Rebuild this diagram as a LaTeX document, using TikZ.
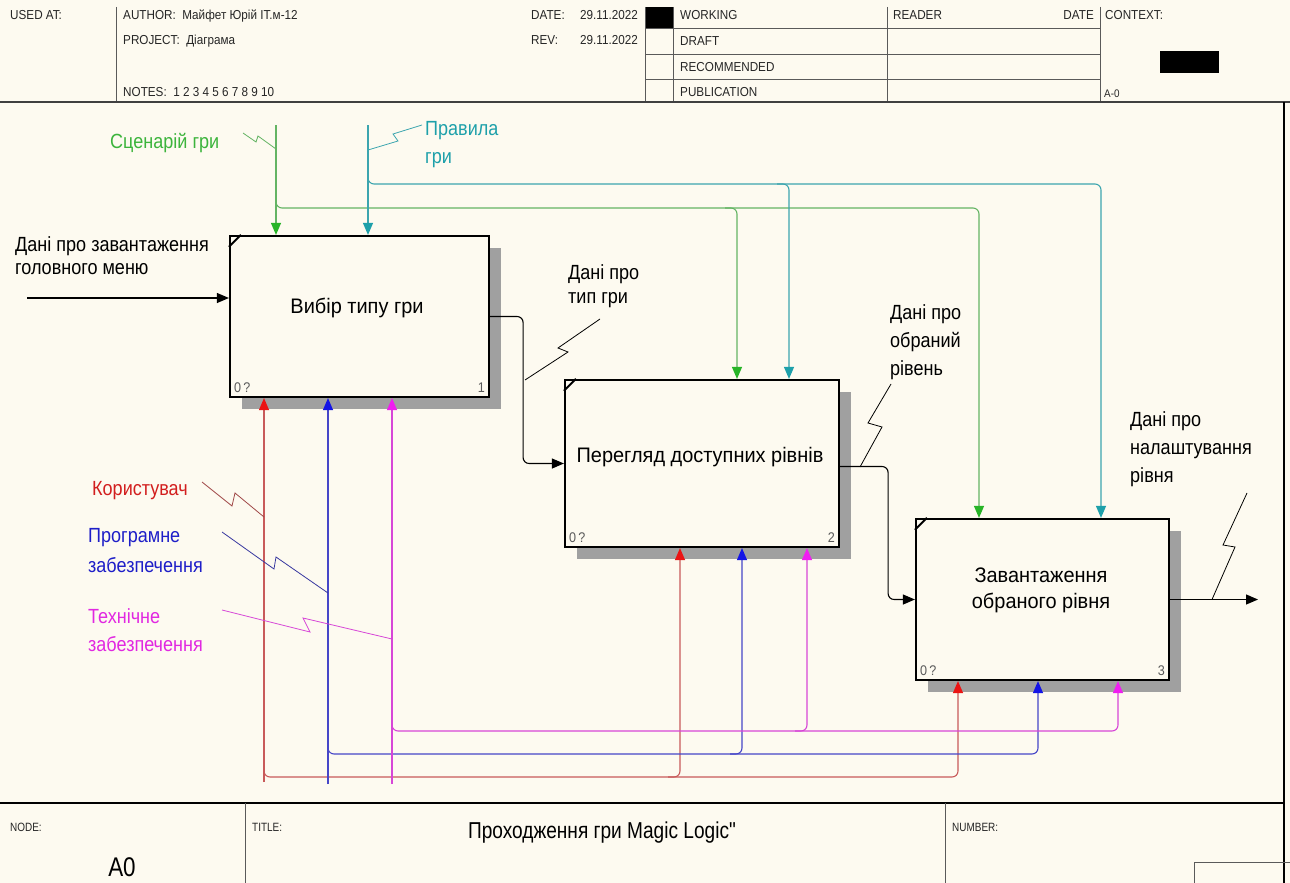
\documentclass[tikz,border=0pt]{standalone}
\usepackage{fontspec}
\setmainfont{Liberation Sans}
\newfontfamily\lblfam[FakeStretch=0.88]{Liberation Sans}
\newfontfamily\boxfam[FakeStretch=0.95]{Liberation Sans}
\newfontfamily\hdrfam[FakeStretch=0.9]{Liberation Sans}
\newfontfamily\ttlfam[FakeStretch=0.83]{Liberation Sans}
\usetikzlibrary{arrows.meta,calc}
\definecolor{bg}{RGB}{253,250,240}
\definecolor{gline}{RGB}{100,180,100}
\definecolor{garrow}{RGB}{40,180,40}
\definecolor{gtext}{RGB}{60,180,60}
\definecolor{cline}{RGB}{60,165,175}
\definecolor{carrow}{RGB}{30,160,170}
\definecolor{rline}{RGB}{200,90,90}
\definecolor{rarrow}{RGB}{235,20,20}
\definecolor{rtext}{RGB}{210,30,30}
\definecolor{bline}{RGB}{70,70,200}
\definecolor{barrow}{RGB}{20,20,230}
\definecolor{btext}{RGB}{30,30,200}
\definecolor{mline}{RGB}{215,70,215}
\definecolor{marrow}{RGB}{240,30,240}
\definecolor{mtext}{RGB}{225,40,225}
\definecolor{shadowgray}{RGB}{160,160,160}
\definecolor{hdr}{RGB}{90,90,90}
\newcommand{\LblFont}[1]{\lblfam\fontsize{20.5}{#1}\selectfont}
\newcommand{\BoxFont}{\boxfam\fontsize{21}{26}\selectfont}
\begin{document}
\begin{tikzpicture}[x=1pt,y=-1pt,
  hdrline/.style={line width=0.9pt, draw=hdr},
  htxt/.style={inner sep=0pt, anchor=base west, font=\hdrfam\fontsize{13}{15}\selectfont, text=black!85},
  box/.style={draw, line width=2.2pt, fill=bg, inner sep=0pt},
  boxtxt/.style={inner sep=0pt, align=center, font=\BoxFont},
  corner/.style={inner sep=0pt, font=\hdrfam\fontsize{14}{16}\selectfont, text=hdr},
  lbl/.style={inner sep=0pt, anchor=north west, align=left},
  conn/.style={line width=1.1pt, rounded corners=6pt},
  sq/.style={line width=0.8pt},
  tipk/.style={-{Triangle[length=12pt,width=10pt]}},
]
\useasboundingbox (0,0) rectangle (1290,883);
\fill[bg] (0,0) rectangle (1290,883);

% ---------- header ----------
\foreach \xx in {116,645,673,887,1100} \draw[hdrline] (\xx,7) -- (\xx,102);
\foreach \yy in {28,54,79} \draw[hdrline] (645,\yy) -- (1100,\yy);
\fill[black] (646,7) rectangle (673,28);
\fill[black] (1160,51) rectangle (1219,73);
\draw[line width=1.6pt, draw=black!75] (0,102) -- (1290,102);
\node[htxt] (usedat) at (10,20) {USED AT:};
\node[htxt] (author) at (123,20) {AUTHOR:\ \ Майфет Юрій ІТ.м-12};
\node[htxt] (project) at (123,45) {PROJECT:\ \ Діаграма};
\node[htxt] (notes) at (123,96) {NOTES:\ \ 1\ 2\ 3\ 4\ 5\ 6\ 7\ 8\ 9\ 10};
\node[htxt] (datek) at (531,20) {DATE:};
\node[htxt,anchor=base east] (datev) at (638,20) {29.11.2022};
\node[htxt] (revk) at (531,45) {REV:};
\node[htxt,anchor=base east] (revv) at (638,45) {29.11.2022};
\node[htxt] (working) at (680,20) {WORKING};
\node[htxt] (draft) at (680,46) {DRAFT};
\node[htxt] (recom) at (680,71) {RECOMMENDED};
\node[htxt] (publ) at (680,96) {PUBLICATION};
\node[htxt] (reader) at (893,20) {READER};
\node[htxt,anchor=base east] (rdate) at (1094,20) {DATE};
\node[htxt] (context) at (1105,20) {CONTEXT:};
\node[htxt,font=\hdrfam\fontsize{11}{13}\selectfont] (ctxa) at (1104,97) {A-0};

% ---------- footer ----------
\draw[line width=1.5pt] (0,803) -- (1284,803);
\draw[line width=1.5pt] (1284,102) -- (1284,883);
\draw[hdrline] (245,803) -- (245,883);
\draw[hdrline] (945,803) -- (945,883);
\draw[hdrline] (1194,883) -- (1194,862) -- (1290,862);
\node[htxt,font=\ttlfam\fontsize{12}{14}\selectfont] (nodek) at (10,831) {NODE:};
\node[htxt,font=\ttlfam\fontsize{12}{14}\selectfont] (titlek) at (252,831) {TITLE:};
\node[htxt,font=\ttlfam\fontsize{12}{14}\selectfont] (numk) at (952,831) {NUMBER:};
\node[inner sep=0pt,anchor=base,font=\ttlfam\fontsize{23}{27}\selectfont] (title) at (602,838) {Проходження гри Magic Logic"};
\node[inner sep=0pt,anchor=base,font=\ttlfam\fontsize{27}{30}\selectfont] (a0) at (122,876) {A0};

% ---------- shadows ----------
\fill[shadowgray] (242,248) rectangle (501,409);
\fill[shadowgray] (577,392) rectangle (851,559);
\fill[shadowgray] (928,531) rectangle (1181,692);

% ---------- boxes ----------
\node[box, minimum width=259pt, minimum height=161pt] (b1) at (359.5,316.5) {};
\node[box, minimum width=274pt, minimum height=167pt] (b2) at (702,463.5) {};
\node[box, minimum width=253pt, minimum height=161pt] (b3) at (1042.5,599.5) {};
\foreach \b in {b1,b2,b3}
  \draw[line width=2pt] ([yshift=-12pt]\b.north west) -- ([xshift=12pt]\b.north west);
\node[boxtxt] (t1) at (357,308) {Вибір типу гри};
\node[boxtxt] (t2) at (700,457) {Перегляд доступних рівнів};
\node[boxtxt] (t3) at (1041,590) {Завантаження\\обраного рівня};
\node[corner,anchor=base west] (c1a) at ([xshift=5pt,yshift=6pt]b1.south west) {0\,?};
\node[corner,anchor=base east] (c1b) at ([xshift=-5pt,yshift=6pt]b1.south east) {1};
\node[corner,anchor=base west] (c2a) at ([xshift=5pt,yshift=6pt]b2.south west) {0\,?};
\node[corner,anchor=base east] (c2b) at ([xshift=-5pt,yshift=6pt]b2.south east) {2};
\node[corner,anchor=base west] (c3a) at ([xshift=5pt,yshift=6pt]b3.south west) {0\,?};
\node[corner,anchor=base east] (c3b) at ([xshift=-5pt,yshift=6pt]b3.south east) {3};

% ---------- labels ----------
\node[lbl,font=\LblFont{23}] (lin) at (15,236) {Дані про завантаження\\головного меню};
\node[lbl,font=\LblFont{22},text=gtext] (lsc) at (110,133) {Сценарій гри};
\node[lbl,font=\LblFont{28},text=carrow] (lpr) at (425,121) {Правила\\гри};
\node[lbl,font=\LblFont{24}] (ltype) at (568,264) {Дані про\\тип гри};
\node[lbl,font=\LblFont{28}] (llev) at (890,304) {Дані про\\обраний\\рівень};
\node[lbl,font=\LblFont{28}] (lout) at (1130,411) {Дані про\\налаштування\\рівня};
\node[lbl,font=\LblFont{22},text=rtext] (luser) at (92,481) {Користувач};
\node[lbl,font=\LblFont{30},text=btext] (lsw) at (88,528) {Програмне\\забезпечення};
\node[lbl,font=\LblFont{28},text=mtext] (lhw) at (88,608) {Технічне\\забезпечення};

% ---------- coordinates ----------
\coordinate (inS) at (27,298);
\coordinate (gS) at (276,125);
\coordinate (cS) at (368,125);
\coordinate (rS) at (264,782);
\coordinate (bS) at (328,784);
\coordinate (mS) at (392,784);
\coordinate (outE) at (1258,599.5);

% ---------- input ----------
\draw[line width=1.1pt,tipk] (inS) -- (inS -| b1.west);

% ---------- controls ----------
\draw[conn,draw=gline,-{Triangle[length=12pt,width=10pt,color=garrow]}] (gS) -- (gS |- b1.north);
\draw[conn,draw=gline,-{Triangle[length=12pt,width=10pt,color=garrow]}] (276,196) -- (276,208) -- (979,208) -- (979,0 |- b3.north);
\draw[conn,draw=gline,-{Triangle[length=12pt,width=10pt,color=garrow]}] (725,208) -- (737,208) -- (737,0 |- b2.north);
\draw[conn,draw=cline,-{Triangle[length=12pt,width=10pt,color=carrow]}] (cS) -- (cS |- b1.north);
\draw[conn,draw=cline,-{Triangle[length=12pt,width=10pt,color=carrow]}] (368,172) -- (368,184) -- (1101,184) -- (1101,0 |- b3.north);
\draw[conn,draw=cline,-{Triangle[length=12pt,width=10pt,color=carrow]}] (777,184) -- (789,184) -- (789,0 |- b2.north);

% ---------- mechanisms ----------
\draw[conn,draw=rline,-{Triangle[length=12pt,width=10pt,color=rarrow]}] (rS) -- (rS |- b1.south);
\draw[conn,draw=rline,-{Triangle[length=12pt,width=10pt,color=rarrow]}] (264,765) -- (264,777) -- (958,777) -- (958,0 |- b3.south);
\draw[conn,draw=rline,-{Triangle[length=12pt,width=10pt,color=rarrow]}] (668,777) -- (680,777) -- (680,0 |- b2.south);
\draw[conn,draw=bline,-{Triangle[length=12pt,width=10pt,color=barrow]}] (bS) -- (bS |- b1.south);
\draw[conn,draw=bline,-{Triangle[length=12pt,width=10pt,color=barrow]}] (328,742) -- (328,754) -- (1038,754) -- (1038,0 |- b3.south);
\draw[conn,draw=bline,-{Triangle[length=12pt,width=10pt,color=barrow]}] (730,754) -- (742,754) -- (742,0 |- b2.south);
\draw[conn,draw=mline,-{Triangle[length=12pt,width=10pt,color=marrow]}] (mS) -- (mS |- b1.south);
\draw[conn,draw=mline,-{Triangle[length=12pt,width=10pt,color=marrow]}] (392,719) -- (392,731) -- (1118,731) -- (1118,0 |- b3.south);
\draw[conn,draw=mline,-{Triangle[length=12pt,width=10pt,color=marrow]}] (795,731) -- (807,731) -- (807,0 |- b2.south);

% ---------- outputs ----------
\draw[conn,tipk] (b1.east) -- ++(33,0) |- (b2.west);
\draw[conn,tipk] ([yshift=-3pt]b2.east) -- ++(48,0) |- (b3.west);
\draw[line width=1.1pt,tipk] (b3.east) -- (outE);

% ---------- squiggles ----------
\draw[sq,draw=gline] (243,133) -- (256,142) -- (258,136) -- (276,149);
\draw[sq,draw=cline] (368,150) -- (398,141) -- (393,134) -- (422,125);
\draw[sq] (525,380) -- (568,352) -- (558,348) -- (600,319);
\draw[sq] (860,467) -- (882,427) -- (868,423) -- (891,384);
\draw[sq] (1212,599.5) -- (1235,547) -- (1223,545) -- (1247,493);
\draw[sq,draw=rline!80!black] (202,482) -- (232,506) -- (235,493) -- (264,517);
\draw[sq,draw=bline!80!black] (222,532) -- (274,569) -- (276,557) -- (328,593);
\draw[sq,draw=mline] (222,610) -- (310,632) -- (303,618) -- (392,639);
\end{tikzpicture}
\end{document}
